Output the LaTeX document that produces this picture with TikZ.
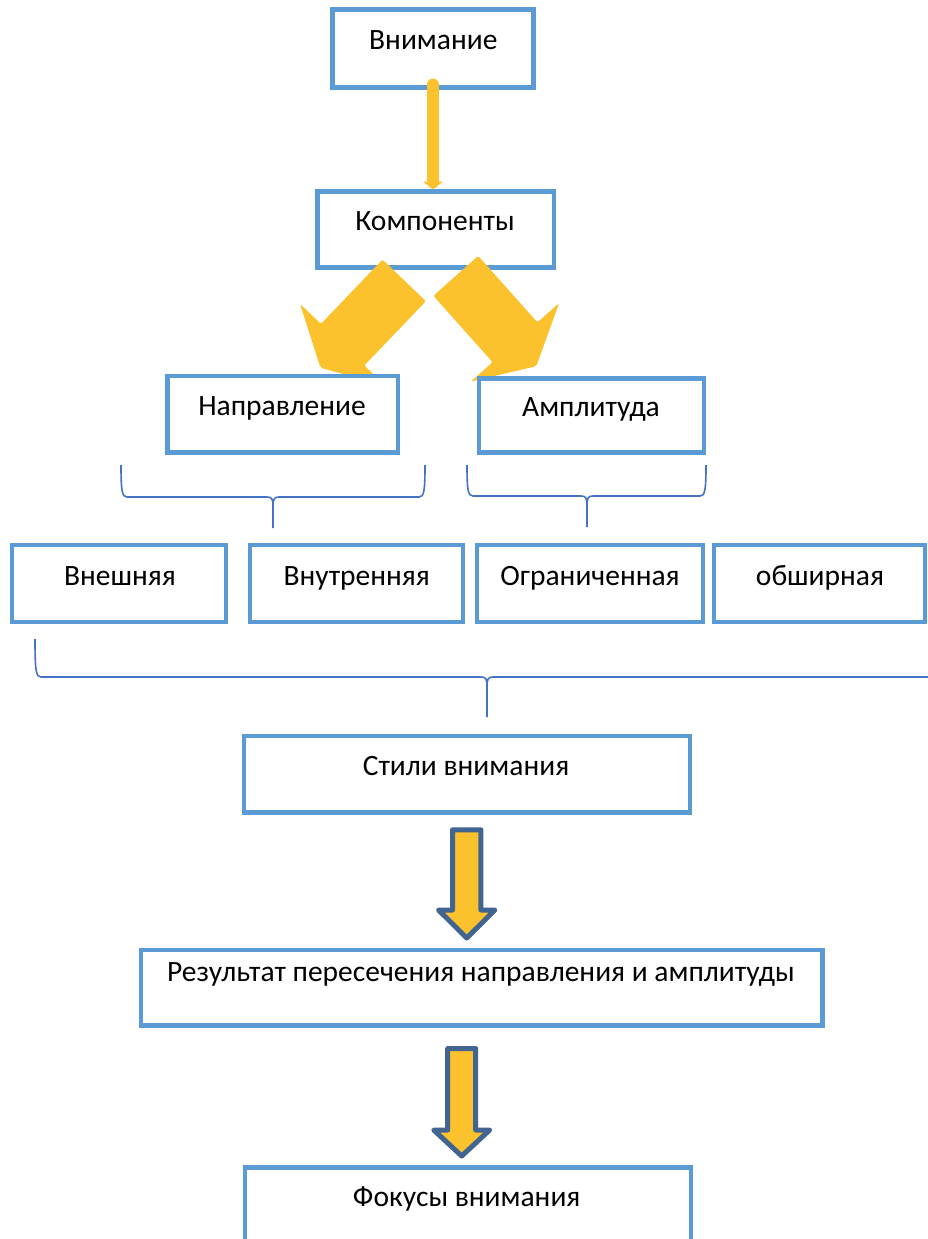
\documentclass[tikz,border=0pt]{standalone}
\usepackage{fontspec}
\setmainfont{Carlito}
\usetikzlibrary{arrows.meta}
\definecolor{boxblue}{RGB}{91,155,213}
\definecolor{bracblue}{RGB}{68,114,196}
\definecolor{arrowyel}{RGB}{251,194,45}
\definecolor{arrowedge}{RGB}{65,100,145}
\tikzset{
  box/.style={draw=boxblue, line width=4.5pt, fill=white, inner sep=0pt, outer sep=0pt},
  lbl/.style={anchor=base, inner sep=0pt, font=\fontsize{29.5}{34}\selectfont},
  brc/.style={draw=bracblue, line width=1.6pt},
  blk/.style={fill=arrowyel, draw=arrowedge, line width=5pt, line join=round},
  fat/.style={fill=arrowyel, rounded corners=2pt},
  thinarr/.style={draw=arrowyel, line width=12pt, line cap=round, -{Triangle[width=20pt,length=8pt]}},
}
\newcommand\hbrace[6]{% x1 x2 xm top h tip
  \draw[brc] (#1,#4) .. controls (#1,#5-6) and (#1+1,#5) .. (#1+6,#5) -- (#3-6,#5)
     .. controls (#3-1,#5) and (#3,#5+2) .. (#3,#5+10) -- (#3,#6);
  \draw[brc] (#2,#4) .. controls (#2,#5-6) and (#2-1,#5) .. (#2-6,#5) -- (#3+6,#5)
     .. controls (#3+1,#5) and (#3,#5+2) .. (#3,#5+10);
}
\begin{document}
\begin{tikzpicture}[x=1pt,y=-1pt]
\useasboundingbox (0,0) rectangle (928,1239);
\clip (0,0) rectangle (928,1239);
% top boxes
\node[box, minimum width=201pt, minimum height=78pt] (b1) at (433,48.5) {};
\node[lbl] (t1) at (433.3,50) {Внимание};
\node[box, minimum width=236.5pt, minimum height=76pt] (b2) at (435.75,229.5) {};
\node[lbl] (t2) at (435,230.7) {Компоненты};
\draw[thinarr] ([yshift=3pt]b1.south) -- ([yshift=2pt]b1.south |- b2.north);
% fat arrows
\fill[fat] (382.5,259.6) -- (425.9,301.2) -- (364.3,365.5) -- (385.2,385.5) -- (320.5,367.8) -- (300,303.9) -- (320.9,323.9) -- cycle;
\fill[fat] (478.2,255.9) -- (537.4,322.4) -- (559.1,303.1) -- (536.3,366.2) -- (470.9,381.5) -- (492.6,362.2) -- (433.4,295.8) -- cycle;
% second level
\node[box, minimum width=230.5pt, minimum height=76.5pt] (b3) at (282.75,414.25) {};
\node[lbl] (t3) at (282,415) {Направление};
\node[box, minimum width=225pt, minimum height=74pt] (b4) at (591.5,415.5) {};
\node[lbl] (t4) at (591,416.7) {Амплитуда};
% braces
\hbrace{121}{425}{273}{465}{497}{528}
\hbrace{467}{706}{587}{465}{496}{527}
\hbrace{35}{960}{487}{639}{677}{717}
% third level
\node[box, minimum width=214pt, minimum height=77pt] (r1) at (119,583.5) {};
\node[lbl] (u1) at (120,585) {Внешняя};
\node[box, minimum width=213pt, minimum height=77pt] (r2) at (356.5,583.5) {};
\node[lbl] (u2) at (356.7,585) {Внутренняя};
\node[box, minimum width=226pt, minimum height=77pt] (r3) at (590,583.5) {};
\node[lbl] (u3) at (590,585) {Ограниченная};
\node[box, minimum width=211pt, minimum height=77pt] (r4) at (819.5,583.5) {};
\node[lbl] (u4) at (820,585) {обширная};
% styles
\node[box, minimum width=446pt, minimum height=76.5pt] (s) at (467,774.25) {};
\node[lbl] (ts) at (466,775) {Стили внимания};
\draw[blk] (452.5,829.8) -- (480.9,829.8) -- (480.9,910) -- (494.9,910) -- (466.7,938) -- (438.5,910) -- (452.5,910) -- cycle;
\node[box, minimum width=681.5pt, minimum height=75.5pt] (res) at (481.75,987.75) {};
\node[lbl] (tres) at (480.8,981.7) {Результат пересечения направления и амплитуды};
\draw[blk] (447.7,1048.5) -- (475.7,1048.5) -- (475.7,1130) -- (489.7,1130) -- (461.7,1156) -- (433.7,1130) -- (447.7,1130) -- cycle;
\node[box, minimum width=446pt, minimum height=82.5pt] (foc) at (468,1208.75) {};
\node[lbl] (tfoc) at (466.7,1206.7) {Фокусы внимания};
\end{tikzpicture}
\end{document}
